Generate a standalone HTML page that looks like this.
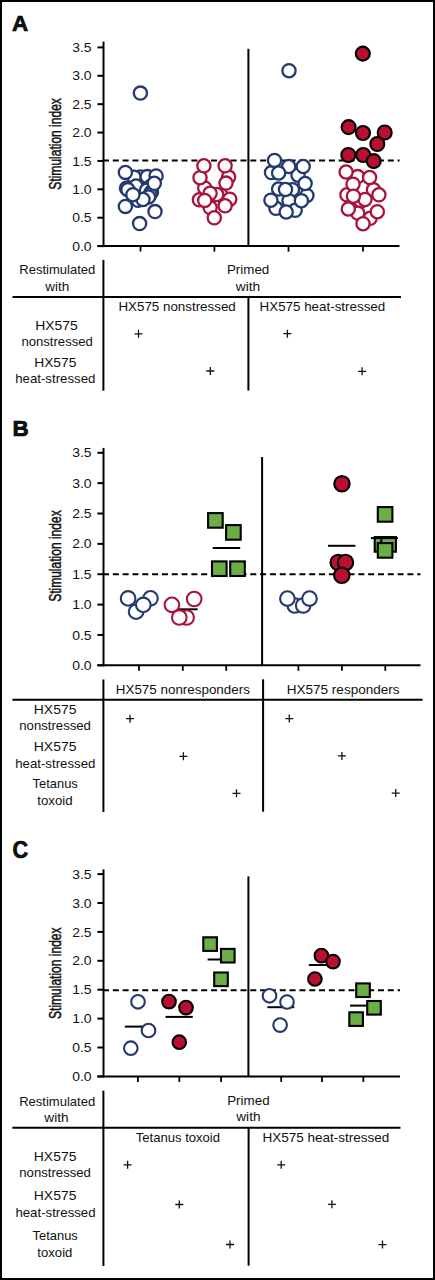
<!DOCTYPE html>
<html><head><meta charset="utf-8"><style>
html,body{margin:0;padding:0;background:#fff;}
svg{display:block;font-family:"Liberation Sans", sans-serif;}
text{fill:#111;}
</style></head><body>
<svg width="435" height="1280" viewBox="0 0 435 1280">
<rect x="1" y="1" width="433" height="1278" fill="none" stroke="#000" stroke-width="2"/>
<line x1="103.5" y1="41.6" x2="103.5" y2="247.1" stroke="#000" stroke-width="2" />
<line x1="97.4" y1="246.1" x2="103.5" y2="246.1" stroke="#000" stroke-width="2" />
<text x="91.6" y="250.7" font-size="13" text-anchor="end" font-weight="normal" textLength="19.4" lengthAdjust="spacingAndGlyphs" >0.0</text>
<line x1="97.4" y1="217.71428571428572" x2="103.5" y2="217.71428571428572" stroke="#000" stroke-width="2" />
<text x="91.6" y="222.31428571428572" font-size="13" text-anchor="end" font-weight="normal" textLength="19.4" lengthAdjust="spacingAndGlyphs" >0.5</text>
<line x1="97.4" y1="189.32857142857142" x2="103.5" y2="189.32857142857142" stroke="#000" stroke-width="2" />
<text x="91.6" y="193.92857142857142" font-size="13" text-anchor="end" font-weight="normal" textLength="19.4" lengthAdjust="spacingAndGlyphs" >1.0</text>
<line x1="97.4" y1="160.94285714285715" x2="103.5" y2="160.94285714285715" stroke="#000" stroke-width="2" />
<text x="91.6" y="165.54285714285714" font-size="13" text-anchor="end" font-weight="normal" textLength="19.4" lengthAdjust="spacingAndGlyphs" >1.5</text>
<line x1="97.4" y1="132.55714285714288" x2="103.5" y2="132.55714285714288" stroke="#000" stroke-width="2" />
<text x="91.6" y="137.15714285714287" font-size="13" text-anchor="end" font-weight="normal" textLength="19.4" lengthAdjust="spacingAndGlyphs" >2.0</text>
<line x1="97.4" y1="104.17142857142858" x2="103.5" y2="104.17142857142858" stroke="#000" stroke-width="2" />
<text x="91.6" y="108.77142857142857" font-size="13" text-anchor="end" font-weight="normal" textLength="19.4" lengthAdjust="spacingAndGlyphs" >2.5</text>
<line x1="97.4" y1="75.7857142857143" x2="103.5" y2="75.7857142857143" stroke="#000" stroke-width="2" />
<text x="91.6" y="80.3857142857143" font-size="13" text-anchor="end" font-weight="normal" textLength="19.4" lengthAdjust="spacingAndGlyphs" >3.0</text>
<line x1="97.4" y1="47.400000000000006" x2="103.5" y2="47.400000000000006" stroke="#000" stroke-width="2" />
<text x="91.6" y="52.00000000000001" font-size="13" text-anchor="end" font-weight="normal" textLength="19.4" lengthAdjust="spacingAndGlyphs" >3.5</text>
<line x1="97.4" y1="246.1" x2="399.5" y2="246.1" stroke="#000" stroke-width="2" />
<line x1="140.5" y1="246.1" x2="140.5" y2="251.6" stroke="#000" stroke-width="1.8" />
<line x1="214.4" y1="246.1" x2="214.4" y2="251.6" stroke="#000" stroke-width="1.8" />
<line x1="288.5" y1="246.1" x2="288.5" y2="251.6" stroke="#000" stroke-width="1.8" />
<line x1="363" y1="246.1" x2="363" y2="251.6" stroke="#000" stroke-width="1.8" />
<line x1="248.4" y1="48.8" x2="248.4" y2="246.1" stroke="#000" stroke-width="2" />
<line x1="103" y1="160.4" x2="399.5" y2="160.4" stroke="#000" stroke-width="2" stroke-dasharray="6 3.82"/>
<text x="11.9" y="30.8" font-size="22.4" font-weight="bold" stroke="#000" stroke-width="0.7" textLength="16.2" lengthAdjust="spacingAndGlyphs">A</text>
<text x="0" y="0" font-size="16.5" text-anchor="middle" stroke="#111" stroke-width="0.5" textLength="91.5" lengthAdjust="spacingAndGlyphs" transform="translate(61.2,143.9) rotate(-90)">Stimulation index</text>
<circle cx="140.5" cy="177" r="6.6" fill="#fff" stroke="#223a6e" stroke-width="2.3"/>
<circle cx="134.1" cy="177.2" r="6.6" fill="#fff" stroke="#223a6e" stroke-width="2.3"/>
<circle cx="147.2" cy="176.6" r="6.6" fill="#fff" stroke="#223a6e" stroke-width="2.3"/>
<circle cx="156.1" cy="175.9" r="6.6" fill="#fff" stroke="#223a6e" stroke-width="2.3"/>
<circle cx="136" cy="186" r="6.6" fill="#fff" stroke="#223a6e" stroke-width="2.3"/>
<circle cx="150.5" cy="186.5" r="6.6" fill="#fff" stroke="#223a6e" stroke-width="2.3"/>
<circle cx="126.5" cy="188.3" r="6.6" fill="#fff" stroke="#223a6e" stroke-width="2.3"/>
<circle cx="127.9" cy="189.7" r="6.6" fill="#fff" stroke="#223a6e" stroke-width="2.3"/>
<circle cx="146.5" cy="190.3" r="6.6" fill="#fff" stroke="#223a6e" stroke-width="2.3"/>
<circle cx="151.5" cy="192" r="6.6" fill="#fff" stroke="#223a6e" stroke-width="2.3"/>
<circle cx="150" cy="194.5" r="6.6" fill="#fff" stroke="#223a6e" stroke-width="2.3"/>
<circle cx="148.5" cy="197" r="6.6" fill="#fff" stroke="#223a6e" stroke-width="2.3"/>
<circle cx="138" cy="200.3" r="6.6" fill="#fff" stroke="#223a6e" stroke-width="2.3"/>
<circle cx="143" cy="199.5" r="6.6" fill="#fff" stroke="#223a6e" stroke-width="2.3"/>
<circle cx="125.4" cy="172.4" r="6.6" fill="#fff" stroke="#223a6e" stroke-width="2.3"/>
<circle cx="154.3" cy="183.3" r="6.6" fill="#fff" stroke="#223a6e" stroke-width="2.3"/>
<circle cx="132.9" cy="194.7" r="6.6" fill="#fff" stroke="#223a6e" stroke-width="2.3"/>
<circle cx="125.4" cy="206.4" r="6.6" fill="#fff" stroke="#223a6e" stroke-width="2.3"/>
<circle cx="155" cy="211.6" r="6.6" fill="#fff" stroke="#223a6e" stroke-width="2.3"/>
<circle cx="139.6" cy="223.6" r="6.6" fill="#fff" stroke="#223a6e" stroke-width="2.3"/>
<circle cx="140.4" cy="93.1" r="6.6" fill="#fff" stroke="#223a6e" stroke-width="2.3"/>
<circle cx="228.6" cy="177.1" r="6.6" fill="#fff" stroke="#a8143a" stroke-width="2.3"/>
<circle cx="220.9" cy="195" r="6.6" fill="#fff" stroke="#a8143a" stroke-width="2.3"/>
<circle cx="216.7" cy="194.5" r="6.6" fill="#fff" stroke="#a8143a" stroke-width="2.3"/>
<circle cx="210.1" cy="207.6" r="6.6" fill="#fff" stroke="#a8143a" stroke-width="2.3"/>
<circle cx="199.4" cy="199.8" r="6.6" fill="#fff" stroke="#a8143a" stroke-width="2.3"/>
<circle cx="229.8" cy="199.2" r="6.6" fill="#fff" stroke="#a8143a" stroke-width="2.3"/>
<circle cx="204.7" cy="187.9" r="6.6" fill="#fff" stroke="#a8143a" stroke-width="2.3"/>
<circle cx="210.1" cy="193.3" r="6.6" fill="#fff" stroke="#a8143a" stroke-width="2.3"/>
<circle cx="200" cy="177.7" r="6.6" fill="#fff" stroke="#a8143a" stroke-width="2.3"/>
<circle cx="203.9" cy="165.8" r="6.6" fill="#fff" stroke="#a8143a" stroke-width="2.3"/>
<circle cx="225.1" cy="165.8" r="6.6" fill="#fff" stroke="#a8143a" stroke-width="2.3"/>
<circle cx="226" cy="183.1" r="6.6" fill="#fff" stroke="#a8143a" stroke-width="2.3"/>
<circle cx="204.7" cy="200.4" r="6.6" fill="#fff" stroke="#a8143a" stroke-width="2.3"/>
<circle cx="225.1" cy="205.8" r="6.6" fill="#fff" stroke="#a8143a" stroke-width="2.3"/>
<circle cx="214.3" cy="217.8" r="6.6" fill="#fff" stroke="#a8143a" stroke-width="2.3"/>
<circle cx="271.5" cy="172.6" r="6.6" fill="#fff" stroke="#223a6e" stroke-width="2.3"/>
<circle cx="298" cy="175.2" r="6.6" fill="#fff" stroke="#223a6e" stroke-width="2.3"/>
<circle cx="278.6" cy="189" r="6.6" fill="#fff" stroke="#223a6e" stroke-width="2.3"/>
<circle cx="292.4" cy="189.7" r="6.6" fill="#fff" stroke="#223a6e" stroke-width="2.3"/>
<circle cx="306.9" cy="195.4" r="6.6" fill="#fff" stroke="#223a6e" stroke-width="2.3"/>
<circle cx="289" cy="200.7" r="6.6" fill="#fff" stroke="#223a6e" stroke-width="2.3"/>
<circle cx="275.9" cy="208.3" r="6.6" fill="#fff" stroke="#223a6e" stroke-width="2.3"/>
<circle cx="295.2" cy="210.3" r="6.6" fill="#fff" stroke="#223a6e" stroke-width="2.3"/>
<circle cx="274.5" cy="160.4" r="6.6" fill="#fff" stroke="#223a6e" stroke-width="2.3"/>
<circle cx="288.7" cy="166.5" r="6.6" fill="#fff" stroke="#223a6e" stroke-width="2.3"/>
<circle cx="303.2" cy="166.5" r="6.6" fill="#fff" stroke="#223a6e" stroke-width="2.3"/>
<circle cx="278.6" cy="173" r="6.6" fill="#fff" stroke="#223a6e" stroke-width="2.3"/>
<circle cx="305.1" cy="183.5" r="6.6" fill="#fff" stroke="#223a6e" stroke-width="2.3"/>
<circle cx="285.5" cy="189.5" r="6.6" fill="#fff" stroke="#223a6e" stroke-width="2.3"/>
<circle cx="270.9" cy="200.2" r="6.6" fill="#fff" stroke="#223a6e" stroke-width="2.3"/>
<circle cx="301.4" cy="200.7" r="6.6" fill="#fff" stroke="#223a6e" stroke-width="2.3"/>
<circle cx="286.2" cy="212" r="6.6" fill="#fff" stroke="#223a6e" stroke-width="2.3"/>
<circle cx="289" cy="70.7" r="6.6" fill="#fff" stroke="#223a6e" stroke-width="2.3"/>
<circle cx="357.7" cy="176.6" r="6.6" fill="#fff" stroke="#a8143a" stroke-width="2.3"/>
<circle cx="373.5" cy="189.8" r="6.6" fill="#fff" stroke="#a8143a" stroke-width="2.3"/>
<circle cx="346.9" cy="194.8" r="6.6" fill="#fff" stroke="#a8143a" stroke-width="2.3"/>
<circle cx="360.8" cy="201.2" r="6.6" fill="#fff" stroke="#a8143a" stroke-width="2.3"/>
<circle cx="365" cy="199.5" r="6.6" fill="#fff" stroke="#a8143a" stroke-width="2.3"/>
<circle cx="357.7" cy="213.1" r="6.6" fill="#fff" stroke="#a8143a" stroke-width="2.3"/>
<circle cx="370.2" cy="218.3" r="6.6" fill="#fff" stroke="#a8143a" stroke-width="2.3"/>
<circle cx="346.1" cy="172" r="6.6" fill="#fff" stroke="#a8143a" stroke-width="2.3"/>
<circle cx="369.6" cy="177.5" r="6.6" fill="#fff" stroke="#a8143a" stroke-width="2.3"/>
<circle cx="353" cy="184.2" r="6.6" fill="#fff" stroke="#a8143a" stroke-width="2.3"/>
<circle cx="378.9" cy="194.8" r="6.6" fill="#fff" stroke="#a8143a" stroke-width="2.3"/>
<circle cx="353.4" cy="196.2" r="6.6" fill="#fff" stroke="#a8143a" stroke-width="2.3"/>
<circle cx="348.3" cy="209" r="6.6" fill="#fff" stroke="#a8143a" stroke-width="2.3"/>
<circle cx="377.3" cy="211.7" r="6.6" fill="#fff" stroke="#a8143a" stroke-width="2.3"/>
<circle cx="363" cy="223.7" r="6.6" fill="#fff" stroke="#a8143a" stroke-width="2.3"/>
<circle cx="348.6" cy="127.1" r="7.0" fill="#bb0f32" stroke="#000" stroke-width="2.1"/>
<circle cx="363" cy="133" r="7.0" fill="#bb0f32" stroke="#000" stroke-width="2.1"/>
<circle cx="384.7" cy="132.5" r="7.0" fill="#bb0f32" stroke="#000" stroke-width="2.1"/>
<circle cx="377.3" cy="144" r="7.0" fill="#bb0f32" stroke="#000" stroke-width="2.1"/>
<circle cx="348.3" cy="155" r="7.0" fill="#bb0f32" stroke="#000" stroke-width="2.1"/>
<circle cx="363.2" cy="155" r="7.0" fill="#bb0f32" stroke="#000" stroke-width="2.1"/>
<circle cx="373.7" cy="161.1" r="7.0" fill="#bb0f32" stroke="#000" stroke-width="2.1"/>
<circle cx="362.8" cy="53.6" r="7.0" fill="#bb0f32" stroke="#000" stroke-width="2.1"/>
<text x="57.25" y="274" font-size="13" text-anchor="middle" font-weight="normal" textLength="76" lengthAdjust="spacingAndGlyphs" >Restimulated</text>
<text x="57.15" y="290.5" font-size="13" text-anchor="middle" font-weight="normal" textLength="24" lengthAdjust="spacingAndGlyphs" >with</text>
<text x="248.1" y="274" font-size="13" text-anchor="middle" font-weight="normal" textLength="42.4" lengthAdjust="spacingAndGlyphs" >Primed</text>
<text x="248" y="290.7" font-size="13" text-anchor="middle" font-weight="normal" textLength="24.5" lengthAdjust="spacingAndGlyphs" >with</text>
<line x1="12.5" y1="297" x2="401" y2="297" stroke="#000" stroke-width="2" />
<line x1="103.4" y1="259.9" x2="103.4" y2="390.7" stroke="#000" stroke-width="2" />
<line x1="248.4" y1="297" x2="248.4" y2="390.5" stroke="#000" stroke-width="2" />
<text x="177.1" y="310.6" font-size="13" text-anchor="middle" font-weight="normal" textLength="117.4" lengthAdjust="spacingAndGlyphs" >HX575 nonstressed</text>
<text x="259.6" y="310.6" font-size="13" text-anchor="start" font-weight="normal" textLength="125.6" lengthAdjust="spacingAndGlyphs" >HX575 heat-stressed</text>
<text x="56.55" y="329.6" font-size="13" text-anchor="middle" font-weight="normal" textLength="42.5" lengthAdjust="spacingAndGlyphs" >HX575</text>
<text x="57.15" y="345.7" font-size="13" text-anchor="middle" font-weight="normal" textLength="71.4" lengthAdjust="spacingAndGlyphs" >nonstressed</text>
<text x="55.3" y="367" font-size="13" text-anchor="middle" font-weight="normal" textLength="42.2" lengthAdjust="spacingAndGlyphs" >HX575</text>
<text x="55.3" y="383.1" font-size="13" text-anchor="middle" font-weight="normal" textLength="80.2" lengthAdjust="spacingAndGlyphs" >heat-stressed</text>
<path d="M134.5 333.8H142.5M138.5 329.8V337.8" stroke="#111" stroke-width="1.3" fill="none"/>
<path d="M206.3 371H214.3M210.3 367V375" stroke="#111" stroke-width="1.3" fill="none"/>
<path d="M283.4 333.7H291.4M287.4 329.7V337.7" stroke="#111" stroke-width="1.3" fill="none"/>
<path d="M358.1 371.3H366.1M362.1 367.3V375.3" stroke="#111" stroke-width="1.3" fill="none"/>
<line x1="103.5" y1="447.9" x2="103.5" y2="666.3" stroke="#000" stroke-width="2" />
<line x1="97.4" y1="665.3" x2="103.5" y2="665.3" stroke="#000" stroke-width="2" />
<text x="91.6" y="669.9" font-size="13" text-anchor="end" font-weight="normal" textLength="19.4" lengthAdjust="spacingAndGlyphs" >0.0</text>
<line x1="97.4" y1="634.9428571428571" x2="103.5" y2="634.9428571428571" stroke="#000" stroke-width="2" />
<text x="91.6" y="639.5428571428571" font-size="13" text-anchor="end" font-weight="normal" textLength="19.4" lengthAdjust="spacingAndGlyphs" >0.5</text>
<line x1="97.4" y1="604.5857142857143" x2="103.5" y2="604.5857142857143" stroke="#000" stroke-width="2" />
<text x="91.6" y="609.1857142857143" font-size="13" text-anchor="end" font-weight="normal" textLength="19.4" lengthAdjust="spacingAndGlyphs" >1.0</text>
<line x1="97.4" y1="574.2285714285714" x2="103.5" y2="574.2285714285714" stroke="#000" stroke-width="2" />
<text x="91.6" y="578.8285714285714" font-size="13" text-anchor="end" font-weight="normal" textLength="19.4" lengthAdjust="spacingAndGlyphs" >1.5</text>
<line x1="97.4" y1="543.8714285714285" x2="103.5" y2="543.8714285714285" stroke="#000" stroke-width="2" />
<text x="91.6" y="548.4714285714285" font-size="13" text-anchor="end" font-weight="normal" textLength="19.4" lengthAdjust="spacingAndGlyphs" >2.0</text>
<line x1="97.4" y1="513.5142857142857" x2="103.5" y2="513.5142857142857" stroke="#000" stroke-width="2" />
<text x="91.6" y="518.1142857142858" font-size="13" text-anchor="end" font-weight="normal" textLength="19.4" lengthAdjust="spacingAndGlyphs" >2.5</text>
<line x1="97.4" y1="483.15714285714284" x2="103.5" y2="483.15714285714284" stroke="#000" stroke-width="2" />
<text x="91.6" y="487.75714285714287" font-size="13" text-anchor="end" font-weight="normal" textLength="19.4" lengthAdjust="spacingAndGlyphs" >3.0</text>
<line x1="97.4" y1="452.8" x2="103.5" y2="452.8" stroke="#000" stroke-width="2" />
<text x="91.6" y="457.40000000000003" font-size="13" text-anchor="end" font-weight="normal" textLength="19.4" lengthAdjust="spacingAndGlyphs" >3.5</text>
<line x1="97.4" y1="665.3" x2="420.5" y2="665.3" stroke="#000" stroke-width="2" />
<line x1="139" y1="665.3" x2="139" y2="670.8" stroke="#000" stroke-width="1.8" />
<line x1="182.8" y1="665.3" x2="182.8" y2="670.8" stroke="#000" stroke-width="1.8" />
<line x1="226.2" y1="665.3" x2="226.2" y2="670.8" stroke="#000" stroke-width="1.8" />
<line x1="298.4" y1="665.3" x2="298.4" y2="670.8" stroke="#000" stroke-width="1.8" />
<line x1="341.9" y1="665.3" x2="341.9" y2="670.8" stroke="#000" stroke-width="1.8" />
<line x1="385.3" y1="665.3" x2="385.3" y2="670.8" stroke="#000" stroke-width="1.8" />
<line x1="262.1" y1="457" x2="262.1" y2="665.3" stroke="#000" stroke-width="2" />
<line x1="103" y1="574.2" x2="420.5" y2="574.2" stroke="#000" stroke-width="2" stroke-dasharray="6 3.82"/>
<text x="12.4" y="435.9" font-size="22.4" font-weight="bold" stroke="#000" stroke-width="0.7" textLength="16.2" lengthAdjust="spacingAndGlyphs">B</text>
<text x="0" y="0" font-size="16.5" text-anchor="middle" stroke="#111" stroke-width="0.5" textLength="91.5" lengthAdjust="spacingAndGlyphs" transform="translate(61.2,556.1) rotate(-90)">Stimulation index</text>
<circle cx="136.1" cy="611.7" r="7.3" fill="#fff" stroke="#223a6e" stroke-width="2.1"/>
<circle cx="150.5" cy="598.3" r="7.3" fill="#fff" stroke="#223a6e" stroke-width="2.1"/>
<circle cx="128.1" cy="598.4" r="7.3" fill="#fff" stroke="#223a6e" stroke-width="2.1"/>
<circle cx="143.3" cy="604.9" r="7.3" fill="#fff" stroke="#223a6e" stroke-width="2.1"/>
<line x1="169" y1="609.3" x2="197.6" y2="609.3" stroke="#000" stroke-width="2" />
<circle cx="171.9" cy="604.8" r="7.3" fill="#fff" stroke="#a8143a" stroke-width="2.1"/>
<circle cx="194.2" cy="599" r="7.3" fill="#fff" stroke="#a8143a" stroke-width="2.1"/>
<circle cx="186.6" cy="617.5" r="7.3" fill="#fff" stroke="#a8143a" stroke-width="2.1"/>
<circle cx="179.3" cy="617.5" r="7.3" fill="#fff" stroke="#a8143a" stroke-width="2.1"/>
<rect x="208.1" y="513.1" width="14.6" height="14.6" fill="#6cae45" stroke="#000" stroke-width="2.1"/>
<rect x="226.1" y="525.1" width="14.6" height="14.6" fill="#6cae45" stroke="#000" stroke-width="2.1"/>
<rect x="212.0" y="561.4000000000001" width="14.6" height="14.6" fill="#6cae45" stroke="#000" stroke-width="2.1"/>
<rect x="230.2" y="561.4000000000001" width="14.6" height="14.6" fill="#6cae45" stroke="#000" stroke-width="2.1"/>
<line x1="212.7" y1="548" x2="240.2" y2="548" stroke="#000" stroke-width="2" />
<circle cx="294.8" cy="605.5" r="7.3" fill="#fff" stroke="#223a6e" stroke-width="2.1"/>
<circle cx="303.2" cy="605.5" r="7.3" fill="#fff" stroke="#223a6e" stroke-width="2.1"/>
<circle cx="287.4" cy="598.6" r="7.3" fill="#fff" stroke="#223a6e" stroke-width="2.1"/>
<circle cx="309.5" cy="598.6" r="7.3" fill="#fff" stroke="#223a6e" stroke-width="2.1"/>
<line x1="328" y1="545.8" x2="355.4" y2="545.8" stroke="#000" stroke-width="2" />
<circle cx="341.95" cy="483.8" r="7.7" fill="#bb0f32" stroke="#000" stroke-width="2.1"/>
<circle cx="338.2" cy="562.5" r="7.7" fill="#bb0f32" stroke="#000" stroke-width="2.1"/>
<circle cx="345.5" cy="562.5" r="7.7" fill="#bb0f32" stroke="#000" stroke-width="2.1"/>
<circle cx="341.8" cy="575.3" r="7.7" fill="#bb0f32" stroke="#000" stroke-width="2.1"/>
<rect x="374.7" y="537.1" width="14.6" height="14.6" fill="#6cae45" stroke="#000" stroke-width="2.1"/>
<rect x="381.3" y="537.1" width="14.6" height="14.6" fill="#6cae45" stroke="#000" stroke-width="2.1"/>
<line x1="370.9" y1="538.1" x2="397.9" y2="538.1" stroke="#000" stroke-width="2" />
<rect x="377.8" y="507.09999999999997" width="14.6" height="14.6" fill="#6cae45" stroke="#000" stroke-width="2.1"/>
<rect x="377.8" y="543.1" width="14.6" height="14.6" fill="#6cae45" stroke="#000" stroke-width="2.1"/>
<line x1="103.4" y1="679.5" x2="103.4" y2="812" stroke="#000" stroke-width="2" />
<line x1="263.1" y1="679.3" x2="263.1" y2="811.7" stroke="#000" stroke-width="2" />
<line x1="12.4" y1="699.8" x2="422.6" y2="699.8" stroke="#000" stroke-width="2" />
<text x="182.85" y="693.7" font-size="13" text-anchor="middle" font-weight="normal" textLength="134.1" lengthAdjust="spacingAndGlyphs" >HX575 nonresponders</text>
<text x="343.15" y="693.7" font-size="13" text-anchor="middle" font-weight="normal" textLength="112.9" lengthAdjust="spacingAndGlyphs" >HX575 responders</text>
<text x="55.1" y="714.0" font-size="13" text-anchor="middle" font-weight="normal" textLength="42.6" lengthAdjust="spacingAndGlyphs" >HX575</text>
<text x="55.1" y="730.4" font-size="13" text-anchor="middle" font-weight="normal" textLength="71.6" lengthAdjust="spacingAndGlyphs" >nonstressed</text>
<text x="55.1" y="751.2" font-size="13" text-anchor="middle" font-weight="normal" textLength="42.6" lengthAdjust="spacingAndGlyphs" >HX575</text>
<text x="55.3" y="768.1" font-size="13" text-anchor="middle" font-weight="normal" textLength="80.2" lengthAdjust="spacingAndGlyphs" >heat-stressed</text>
<text x="55.2" y="788.4" font-size="13" text-anchor="middle" font-weight="normal" textLength="45.2" lengthAdjust="spacingAndGlyphs" >Tetanus</text>
<text x="55.0" y="805.2" font-size="13" text-anchor="middle" font-weight="normal" textLength="35.4" lengthAdjust="spacingAndGlyphs" >toxoid</text>
<path d="M126 718.7H134M130 714.7V722.7" stroke="#111" stroke-width="1.3" fill="none"/>
<path d="M179.4 756.3H187.4M183.4 752.3V760.3" stroke="#111" stroke-width="1.3" fill="none"/>
<path d="M232.5 793.3H240.5M236.5 789.3V797.3" stroke="#111" stroke-width="1.3" fill="none"/>
<path d="M285.3 718.6H293.3M289.3 714.6V722.6" stroke="#111" stroke-width="1.3" fill="none"/>
<path d="M337.9 755.9H345.9M341.9 751.9V759.9" stroke="#111" stroke-width="1.3" fill="none"/>
<path d="M391.7 793.1H399.7M395.7 789.1V797.1" stroke="#111" stroke-width="1.3" fill="none"/>
<line x1="103.5" y1="869.4" x2="103.5" y2="1077.4" stroke="#000" stroke-width="2" />
<line x1="97.4" y1="1076.4" x2="103.5" y2="1076.4" stroke="#000" stroke-width="2" />
<text x="91.6" y="1081.0" font-size="13" text-anchor="end" font-weight="normal" textLength="19.4" lengthAdjust="spacingAndGlyphs" >0.0</text>
<line x1="97.4" y1="1047.5" x2="103.5" y2="1047.5" stroke="#000" stroke-width="2" />
<text x="91.6" y="1052.1" font-size="13" text-anchor="end" font-weight="normal" textLength="19.4" lengthAdjust="spacingAndGlyphs" >0.5</text>
<line x1="97.4" y1="1018.6" x2="103.5" y2="1018.6" stroke="#000" stroke-width="2" />
<text x="91.6" y="1023.2" font-size="13" text-anchor="end" font-weight="normal" textLength="19.4" lengthAdjust="spacingAndGlyphs" >1.0</text>
<line x1="97.4" y1="989.7" x2="103.5" y2="989.7" stroke="#000" stroke-width="2" />
<text x="91.6" y="994.3000000000001" font-size="13" text-anchor="end" font-weight="normal" textLength="19.4" lengthAdjust="spacingAndGlyphs" >1.5</text>
<line x1="97.4" y1="960.8000000000001" x2="103.5" y2="960.8000000000001" stroke="#000" stroke-width="2" />
<text x="91.6" y="965.4000000000001" font-size="13" text-anchor="end" font-weight="normal" textLength="19.4" lengthAdjust="spacingAndGlyphs" >2.0</text>
<line x1="97.4" y1="931.9000000000001" x2="103.5" y2="931.9000000000001" stroke="#000" stroke-width="2" />
<text x="91.6" y="936.5000000000001" font-size="13" text-anchor="end" font-weight="normal" textLength="19.4" lengthAdjust="spacingAndGlyphs" >2.5</text>
<line x1="97.4" y1="903.0" x2="103.5" y2="903.0" stroke="#000" stroke-width="2" />
<text x="91.6" y="907.6" font-size="13" text-anchor="end" font-weight="normal" textLength="19.4" lengthAdjust="spacingAndGlyphs" >3.0</text>
<line x1="97.4" y1="874.1" x2="103.5" y2="874.1" stroke="#000" stroke-width="2" />
<text x="91.6" y="878.7" font-size="13" text-anchor="end" font-weight="normal" textLength="19.4" lengthAdjust="spacingAndGlyphs" >3.5</text>
<line x1="97.4" y1="1076.4" x2="400" y2="1076.4" stroke="#000" stroke-width="2" />
<line x1="137.9" y1="1076.4" x2="137.9" y2="1081.9" stroke="#000" stroke-width="1.8" />
<line x1="179.3" y1="1076.4" x2="179.3" y2="1081.9" stroke="#000" stroke-width="1.8" />
<line x1="221.1" y1="1076.4" x2="221.1" y2="1081.9" stroke="#000" stroke-width="1.8" />
<line x1="281.2" y1="1076.4" x2="281.2" y2="1081.9" stroke="#000" stroke-width="1.8" />
<line x1="322" y1="1076.4" x2="322" y2="1081.9" stroke="#000" stroke-width="1.8" />
<line x1="363.3" y1="1076.4" x2="363.3" y2="1081.9" stroke="#000" stroke-width="1.8" />
<line x1="248.4" y1="876.4" x2="248.4" y2="1076.4" stroke="#000" stroke-width="2" />
<line x1="103" y1="990.2" x2="400" y2="990.2" stroke="#000" stroke-width="2" stroke-dasharray="6 3.82"/>
<text x="12.6" y="858.2" font-size="23.6" font-weight="bold" stroke="#000" stroke-width="0.7" textLength="15.6" lengthAdjust="spacingAndGlyphs">C</text>
<text x="0" y="0" font-size="16.5" text-anchor="middle" stroke="#111" stroke-width="0.5" textLength="91.5" lengthAdjust="spacingAndGlyphs" transform="translate(61.2,973.2) rotate(-90)">Stimulation index</text>
<line x1="124.8" y1="1026.6" x2="151" y2="1026.6" stroke="#000" stroke-width="2" />
<circle cx="138" cy="1001.8" r="6.8" fill="#fff" stroke="#223a6e" stroke-width="2.1"/>
<circle cx="148.5" cy="1030.5" r="6.8" fill="#fff" stroke="#223a6e" stroke-width="2.1"/>
<circle cx="130.8" cy="1048.2" r="6.8" fill="#fff" stroke="#223a6e" stroke-width="2.1"/>
<circle cx="169" cy="1001.6" r="6.8" fill="#bb0f32" stroke="#000" stroke-width="2.1"/>
<line x1="165.5" y1="1016.9" x2="192.8" y2="1016.9" stroke="#000" stroke-width="2" />
<circle cx="186" cy="1007.6" r="6.8" fill="#bb0f32" stroke="#000" stroke-width="2.1"/>
<circle cx="179.3" cy="1042.2" r="6.8" fill="#bb0f32" stroke="#000" stroke-width="2.1"/>
<line x1="207.6" y1="959.5" x2="234.6" y2="959.5" stroke="#000" stroke-width="2" />
<rect x="203.29999999999998" y="937.3000000000001" width="13.6" height="13.6" fill="#6cae45" stroke="#000" stroke-width="2.1"/>
<rect x="221.0" y="948.9000000000001" width="13.6" height="13.6" fill="#6cae45" stroke="#000" stroke-width="2.1"/>
<rect x="214.2" y="972.5" width="13.6" height="13.6" fill="#6cae45" stroke="#000" stroke-width="2.1"/>
<line x1="267.4" y1="1007.2" x2="294.3" y2="1007.2" stroke="#000" stroke-width="2" />
<circle cx="269.5" cy="995.8" r="6.8" fill="#fff" stroke="#223a6e" stroke-width="2.1"/>
<circle cx="287" cy="1002" r="6.8" fill="#fff" stroke="#223a6e" stroke-width="2.1"/>
<circle cx="280.1" cy="1025.1" r="6.8" fill="#fff" stroke="#223a6e" stroke-width="2.1"/>
<circle cx="321.4" cy="955.6" r="6.8" fill="#bb0f32" stroke="#000" stroke-width="2.1"/>
<line x1="308.8" y1="965" x2="335.5" y2="965" stroke="#000" stroke-width="2" />
<circle cx="333" cy="961.6" r="6.8" fill="#bb0f32" stroke="#000" stroke-width="2.1"/>
<circle cx="314.9" cy="979" r="6.8" fill="#bb0f32" stroke="#000" stroke-width="2.1"/>
<line x1="350" y1="1005.6" x2="376.8" y2="1005.6" stroke="#000" stroke-width="2" />
<rect x="356.2" y="983.4000000000001" width="13.6" height="13.6" fill="#6cae45" stroke="#000" stroke-width="2.1"/>
<rect x="367.2" y="1001.0" width="13.6" height="13.6" fill="#6cae45" stroke="#000" stroke-width="2.1"/>
<rect x="349.3" y="1012.3000000000001" width="13.6" height="13.6" fill="#6cae45" stroke="#000" stroke-width="2.1"/>
<text x="57.15" y="1105.7" font-size="13" text-anchor="middle" font-weight="normal" textLength="76" lengthAdjust="spacingAndGlyphs" >Restimulated</text>
<text x="56.45" y="1121.8" font-size="13" text-anchor="middle" font-weight="normal" textLength="24.2" lengthAdjust="spacingAndGlyphs" >with</text>
<text x="248.4" y="1105.4" font-size="13" text-anchor="middle" font-weight="normal" textLength="42.4" lengthAdjust="spacingAndGlyphs" >Primed</text>
<text x="248.4" y="1121.3" font-size="13" text-anchor="middle" font-weight="normal" textLength="24.2" lengthAdjust="spacingAndGlyphs" >with</text>
<line x1="12.3" y1="1127.8" x2="400.5" y2="1127.8" stroke="#000" stroke-width="2" />
<line x1="103.4" y1="1090.7" x2="103.4" y2="1266" stroke="#000" stroke-width="2" />
<line x1="248.6" y1="1127.8" x2="248.6" y2="1265.7" stroke="#000" stroke-width="2" />
<text x="177.9" y="1141.5" font-size="13" text-anchor="middle" font-weight="normal" textLength="84.3" lengthAdjust="spacingAndGlyphs" >Tetanus toxoid</text>
<text x="262.4" y="1142.2" font-size="13" text-anchor="start" font-weight="normal" textLength="127" lengthAdjust="spacingAndGlyphs" >HX575 heat-stressed</text>
<text x="55.1" y="1160.7" font-size="13" text-anchor="middle" font-weight="normal" textLength="42.6" lengthAdjust="spacingAndGlyphs" >HX575</text>
<text x="55.1" y="1176.8" font-size="13" text-anchor="middle" font-weight="normal" textLength="71.6" lengthAdjust="spacingAndGlyphs" >nonstressed</text>
<text x="55.1" y="1200.4" font-size="13" text-anchor="middle" font-weight="normal" textLength="42.6" lengthAdjust="spacingAndGlyphs" >HX575</text>
<text x="55.5" y="1216.6" font-size="13" text-anchor="middle" font-weight="normal" textLength="80.2" lengthAdjust="spacingAndGlyphs" >heat-stressed</text>
<text x="55.2" y="1240.4" font-size="13" text-anchor="middle" font-weight="normal" textLength="45.2" lengthAdjust="spacingAndGlyphs" >Tetanus</text>
<text x="54.85" y="1256.5" font-size="13" text-anchor="middle" font-weight="normal" textLength="35.0" lengthAdjust="spacingAndGlyphs" >toxoid</text>
<path d="M123.6 1164.8H131.6M127.6 1160.8V1168.8" stroke="#111" stroke-width="1.3" fill="none"/>
<path d="M175.3 1204.5H183.3M179.3 1200.5V1208.5" stroke="#111" stroke-width="1.3" fill="none"/>
<path d="M226 1244.5H234M230 1240.5V1248.5" stroke="#111" stroke-width="1.3" fill="none"/>
<path d="M277.2 1164.8H285.2M281.2 1160.8V1168.8" stroke="#111" stroke-width="1.3" fill="none"/>
<path d="M327.9 1204.3H335.9M331.9 1200.3V1208.3" stroke="#111" stroke-width="1.3" fill="none"/>
<path d="M378.5 1244.6H386.5M382.5 1240.6V1248.6" stroke="#111" stroke-width="1.3" fill="none"/>
</svg>
</body></html>
